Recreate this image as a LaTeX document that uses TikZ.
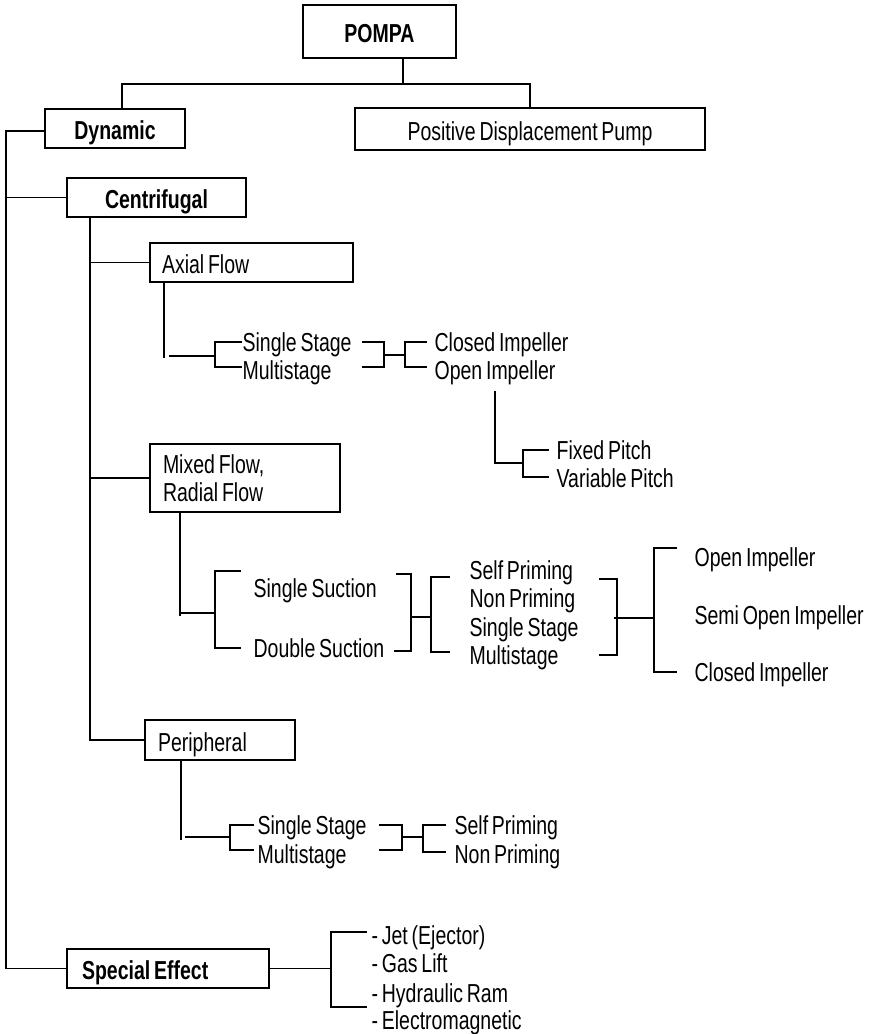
\documentclass[tikz,border=0pt]{standalone}
\usepackage{fontspec}
\setmainfont{Liberation Sans}[FakeStretch=0.75, WordSpace=0.7]
\usepackage{tikz}
\usetikzlibrary{positioning,calc}
\newcommand{\pumpfont}{\fontsize{26}{28}\selectfont}

\begin{document}
\begin{tikzpicture}[
    x=1pt, y=-1pt,
    line width=1.2pt,
    box/.style={rectangle, draw, line width=1.4pt, inner sep=0pt, font=\pumpfont},
    headbox/.style={box, font=\pumpfont\bfseries, align=center, text height=24.6pt, text depth=2pt},
    leftbox/.style={box, align=flush left, text height=24.6pt, text depth=2pt},
    item/.style={anchor=west, inner sep=0pt, text height=20.6pt, text depth=2pt, font=\pumpfont},
]
\useasboundingbox (0,0) rectangle (873,1034);

% === TOP LEVEL ===
\node[headbox, minimum width=153pt, minimum height=53pt] (pompa) at (379.5,31.5) {POMPA};
\node[headbox, minimum width=140pt, minimum height=39pt] (dynamic) at (115,128.5) {Dynamic};
\node[box, align=center, minimum width=350pt, minimum height=42pt, text height=24.6pt, text depth=2pt] (pdp) at (530,129) {Positive Displacement Pump};

% === DYNAMIC BRANCHES ===
\node[headbox, minimum width=179pt, minimum height=39pt] (centrifugal) at (156.5,197.5) {Centrifugal};
\node[leftbox, text width=179pt, inner xsep=12pt, minimum height=39pt] (axial) at (251.5,262.5) {Axial Flow};
\node[box, align=flush left, text width=164pt, inner xsep=13pt, minimum height=68pt] (mixed) at (245,478) {Mixed Flow,\\Radial Flow};
\node[leftbox, text width=124pt, inner xsep=13pt, minimum height=40pt] (peripheral) at (220,740) {Peripheral};
\node[leftbox, text width=172pt, inner xsep=15pt, minimum height=39pt, font=\pumpfont\bfseries] (special) at (168,968.5) {Special Effect};

% === AXIAL FLOW ITEMS ===
\node[item] (ss1) at (242,342) {Single Stage};
\node[item] (ms1) at (242,370) {Multistage};
\node[item] (ci1) at (434,342) {Closed Impeller};
\node[item] (oi1) at (434,370) {Open Impeller};
\node[item] (fp) at (556,450) {Fixed Pitch};
\node[item] (vp) at (556,478) {Variable Pitch};

% === MIXED / RADIAL FLOW ITEMS ===
\node[item] (ssu) at (253,588) {Single Suction};
\node[item] (dsu) at (253,648) {Double Suction};
\node[item] (sp2) at (469,570) {Self Priming};
\node[item] (np2) at (469,598) {Non Priming};
\node[item] (ss2) at (469,627) {Single Stage};
\node[item] (ms2) at (469,655) {Multistage};
\node[item] (oi2) at (694,557) {Open Impeller};
\node[item] (so2) at (694,615) {Semi Open Impeller};
\node[item] (ci2) at (694,672) {Closed Impeller};

% === PERIPHERAL ITEMS ===
\node[item] (ss3) at (257,825) {Single Stage};
\node[item] (ms3) at (257,854) {Multistage};
\node[item] (sp3) at (454,825) {Self Priming};
\node[item] (np3) at (454,854) {Non Priming};

% === SPECIAL EFFECT ITEMS ===
\node[item] (jet) at (371,935) {- Jet (Ejector)};
\node[item] (gas) at (371,963) {- Gas Lift};
\node[item] (ram) at (371,993) {- Hydraulic Ram};
\node[item] (em) at (371,1020) {- Electromagnetic};

% === COORDINATES ===
\coordinate (bus) at (403,84);
\coordinate (dynbus) at (122,84);
\coordinate (pdpbus) at (530,84);
\coordinate (spine) at (6,131);
\coordinate (cspine) at (90,740);
\coordinate (axdrop) at (164,358);
\coordinate (axfork) at (215,356);
\coordinate (axmid) at (384,355);
\coordinate (axfork2) at (405,355);
\coordinate (oidrop) at (495,391);
\coordinate (pfork) at (523,463);
\coordinate (mxdrop) at (180,616);
\coordinate (mxfork) at (215,613);
\coordinate (sumid) at (411,617);
\coordinate (prfork) at (431,617);
\coordinate (prmid) at (617,618);
\coordinate (imfork) at (654,618);
\coordinate (pedrop) at (181,840);
\coordinate (pefork) at (230,837);
\coordinate (pemid) at (402,837);
\coordinate (pefork2) at (423,837);
\coordinate (sefork) at (331,966);

% === TREE LINES ===
\draw (pompa.south -| bus) -- (bus);
\draw (dynamic.north -| dynbus) -- (dynbus) -- (pdpbus) -- (pdp.north);

\draw (spine -| dynamic.west) -- (spine) |- (special.west);
\draw (spine |- centrifugal.west) -- (centrifugal.west);

\draw (centrifugal.south -| cspine) -- (cspine) -- (peripheral.west);
\draw (cspine |- axial.west) -- (axial.west);
\draw (cspine |- mixed.west) -- (mixed.west);

% axial flow
\draw (axial.south -| axdrop) -- (axdrop);
\draw ($(axdrop |- axfork)+(5,0)$) -- (axfork);
\draw (ss1.west) -| (axfork) |- ($(ms1.west)+(0,-3)$);
\draw ($(ss1.west)+(120,0)$) -| (axmid) |- ($(ms1.west)+(120,-3)$);
\draw (axmid) -- (axfork2);
\draw ($(ci1.west)+(-7,0)$) -| (axfork2) |- ($(oi1.west)+(-7,-3)$);
\draw (oidrop) |- (pfork);
\draw ($(fp.west)+(-7,0)$) -| (pfork) |- ($(vp.west)+(-7,-1)$);

% mixed flow, radial flow
\draw (mixed.south -| mxdrop) -- (mxdrop);
\draw (mxdrop |- mxfork) -- (mxfork);
\draw ($(ssu.west)+(-12,-17)$) -| (mxfork) |- ($(dsu.west)+(-12,0)$);
\draw ($(ssu.west)+(143,-14)$) -| (sumid) |- ($(dsu.west)+(141,3)$);
\draw (sumid) -- (prfork);
\draw ($(sp2.west)+(-19,7)$) -| (prfork) |- ($(ms2.west)+(-19,-3)$);
\draw ($(sp2.west)+(130,9)$) -| (prmid) |- ($(ms2.west)+(130,0)$);
\draw ($(prmid)+(-3,0)$) -- (imfork);
\draw ($(oi2.west)+(-17,-9)$) -| (imfork) |- ($(ci2.west)+(-17,0)$);

% peripheral
\draw (peripheral.south -| pedrop) -- (pedrop);
\draw ($(pedrop |- pefork)+(4,0)$) -- (pefork);
\draw ($(ss3.west)+(-3,0)$) -| (pefork) |- ($(ms3.west)+(-3,-4)$);
\draw ($(ss3.west)+(122,0)$) -| (pemid) |- ($(ms3.west)+(122,-4)$);
\draw (pemid) -- (pefork2);
\draw ($(sp3.west)+(-8,0)$) -| (pefork2) |- ($(np3.west)+(-8,-2)$);

% special effect
\draw (special.east) -- (special.east -| sefork);
\draw ($(jet.west)+(-4,-3)$) -| (sefork) |- ($(ram.west)+(-4,14)$);

\end{tikzpicture}
\end{document}
